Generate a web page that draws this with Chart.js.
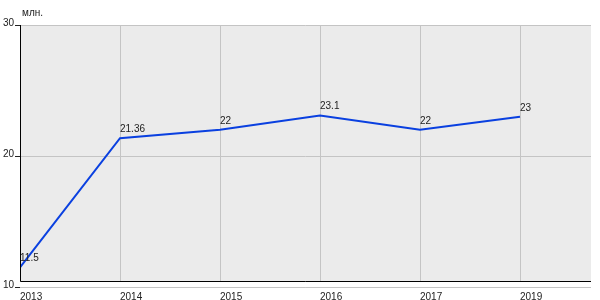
<!DOCTYPE html>
<html>
<head>
<meta charset="utf-8">
<script src="https://cdn.jsdelivr.net/npm/chart.js@4/dist/chart.umd.min.js"></script>
<style>
  html, body { margin: 0; padding: 0; background: #fff; }
  #wrap { width: 600px; height: 300px; position: relative; }
</style>
</head>
<body>
<div id="wrap"><canvas id="c"></canvas></div>
<script>
// data
const years = ['2013', '2014', '2015', '2016', '2017', '2019'];
const values = [11.5, 21.36, 22, 23.1, 22, 23];
const valueLabels = ['11.5', '21.36', '22', '23.1', '22', '23'];
const yTicks = [10, 20, 30];
const unitLabel = 'млн.';

Chart.defaults.font.family = "'Liberation Sans', Arial, sans-serif";
Chart.defaults.font.size = 10;
Chart.defaults.color = '#222';

// plot background, vertical grid, black axis lines, unit label and value labels
const decor = {
  id: 'decor',
  beforeDatasetsDraw(chart) {
    const { ctx: c, chartArea: { left, right, top }, scales: { x, y } } = chart;
    const base = Math.round(y.getPixelForValue(10.45)) + 0.5;
    c.save();
    c.fillStyle = '#ebebeb';
    c.fillRect(left, top, right - left, base - top);
    // horizontal grid redrawn over the fill
    c.strokeStyle = '#c4c4c4';
    c.lineWidth = 1;
    c.beginPath();
    yTicks.forEach((v) => {
      const py = Math.round(y.getPixelForValue(v)) + 0.5;
      c.moveTo(left, py);
      c.lineTo(right, py);
    });
    years.forEach((_, i) => {
      const px = Math.round(x.getPixelForValue(i)) + 0.5;
      c.moveTo(px, top);
      c.lineTo(px, base);
    });
    c.stroke();
    c.restore();
  },
  afterDatasetsDraw(chart) {
    const { ctx: c, chartArea: { left, right, top }, scales: { x, y } } = chart;
    const base = Math.round(y.getPixelForValue(10.45)) + 0.5;
    c.save();
    c.strokeStyle = '#000';
    c.lineWidth = 1;
    c.beginPath();
    c.moveTo(left + 0.5, top);
    c.lineTo(left + 0.5, base);
    c.lineTo(right, base);
    c.stroke();

    c.fillStyle = '#222';
    c.font = "10px 'Liberation Sans', Arial, sans-serif";
    c.textAlign = 'left';
    c.textBaseline = 'alphabetic';
    c.fillText(unitLabel, left + 2, 16);
    values.forEach((v, i) => {
      c.fillText(valueLabels[i], x.getPixelForValue(i), y.getPixelForValue(v) - 6);
    });
    c.restore();
  }
};

new Chart(document.getElementById('c'), {
  type: 'line',
  data: {
    datasets: [{
      data: values.map((v, i) => ({ x: i, y: v })),
      borderColor: '#0a40e0',
      borderWidth: 2,
      pointRadius: 0,
      tension: 0,
      fill: false,
    }]
  },
  options: {
    responsive: true,
    maintainAspectRatio: false,
    animation: false,
    layout: { padding: { top: 25, right: 9 } },
    plugins: {
      legend: { display: false },
      tooltip: { enabled: false },
    },
    scales: {
      x: {
        type: 'linear',
        min: 0,
        max: 5.71,
        afterFit: (s) => { s.height = 13; },
        afterBuildTicks: (s) => { s.ticks = years.map((_, i) => ({ value: i })); },
        ticks: {
          align: 'start',
          padding: -4,
          autoSkip: false,
          maxRotation: 0,
          callback: (v) => years[v],
        },
        grid: { display: false },
        border: { display: false },
      },
      y: {
        min: 10,
        max: 30,
        afterFit: (s) => { s.width = 20; },
        afterBuildTicks: (s) => { s.ticks = yTicks.map((v) => ({ value: v })); },
        ticks: { padding: 1, labelOffset: -2 },
        grid: { color: '#c4c4c4', tickColor: '#222', tickLength: 5 },
        border: { display: false },
      },
    },
  },
  plugins: [decor],
});
</script>
</body>
</html>
